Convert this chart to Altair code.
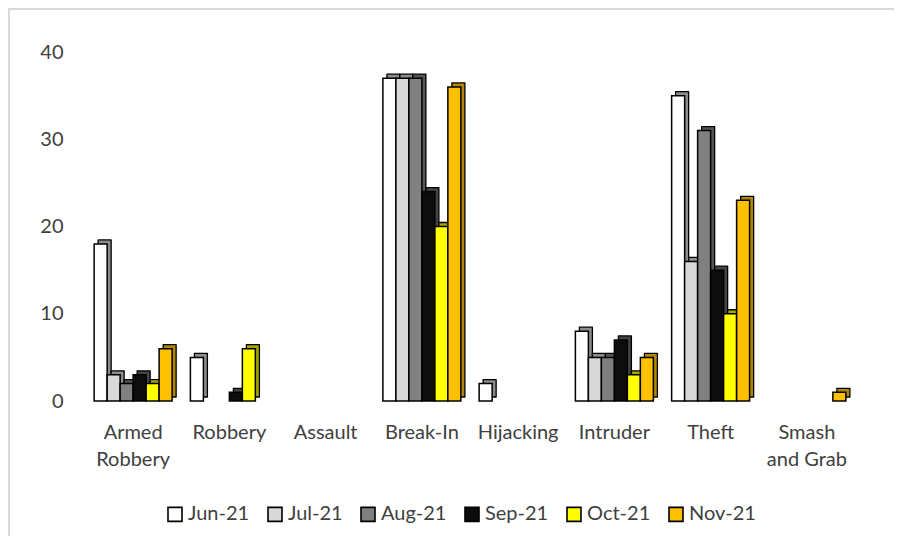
import altair as alt
import pandas as pd

categories = ["Armed Robbery", "Robbery", "Assault", "Break-In", "Hijacking", "Intruder", "Theft", "Smash and Grab"]
series = ["Jun-21", "Jul-21", "Aug-21", "Sep-21", "Oct-21", "Nov-21"]
jun = [18, 5, 0, 37, 2, 8, 35, 0]
jul = [3, 0, 0, 37, 0, 5, 16, 0]
aug = [2, 0, 0, 37, 0, 5, 31, 0]
sep = [3, 1, 0, 24, 0, 7, 15, 0]
oct_ = [2, 6, 0, 20, 0, 3, 10, 0]
nov = [6, 0, 0, 36, 0, 5, 23, 1]
face_colors = ["#ffffff", "#d9d9d9", "#808080", "#0d0d0d", "#ffff00", "#ffc000"]
side_colors = ["#8c8c8c", "#8c8c8c", "#555555", "#444444", "#a6a600", "#b38600"]

rows = []
for s, vals in zip(series, [jun, jul, aug, sep, oct_, nov]):
    for c, v in zip(categories, vals):
        rows.append({"category": c, "month": s, "value": v})
df = pd.DataFrame(rows)

FONT = "Lato"
TXT = "#404040"
x_enc = alt.X("category:N", sort=categories,
              scale=alt.Scale(domain=categories, paddingInner=0.19, paddingOuter=0.095),
              axis=alt.Axis(title=None, labelAngle=0, ticks=False, domain=False,
                            labelFontSize=20, labelColor=TXT, labelFont=FONT,
                            labelPadding=21, labelLineHeight=27, labelBaseline="top",
                            labelExpr="datum.label == 'Armed Robbery' ? ['Armed','Robbery'] : datum.label == 'Smash and Grab' ? ['Smash','and Grab'] : datum.label"))
y_enc = alt.Y("value:Q", scale=alt.Scale(domain=[0, 40]),
              axis=alt.Axis(title=None, values=[0, 10, 20, 30, 40], grid=False, ticks=False, domain=False,
                            labelFontSize=20, labelColor=TXT, labelFont=FONT, labelPadding=22))

base = alt.Chart(df).transform_filter("datum.value > 0")

shadow = base.mark_bar(yOffset=-4, stroke="#000000", strokeWidth=1.3, strokeJoin="round").encode(
    x=x_enc, y=y_enc,
    xOffset=alt.XOffset("month:N", sort=series,
                        scale=alt.Scale(domain=series, range=[4, 82], paddingInner=0, paddingOuter=0)),
    color=alt.Color("month:N", sort=series, scale=alt.Scale(domain=series, range=side_colors), legend=None),
)
front = base.mark_bar(stroke="#000000", strokeWidth=1.5).encode(
    x=x_enc, y=y_enc,
    xOffset=alt.XOffset("month:N", sort=series,
                        scale=alt.Scale(domain=series, paddingInner=0, paddingOuter=0)),
    fill=alt.Fill("month:N", sort=series, scale=alt.Scale(domain=series, range=face_colors),
                  legend=alt.Legend(title=None, orient="none", direction="horizontal",
                                    legendX=80, legendY=452, symbolType="square", symbolSize=196,
                                    symbolStrokeColor="#000000", symbolStrokeWidth=1.6,
                                    labelFontSize=20, labelFont=FONT, labelColor=TXT,
                                    labelOffset=3, columnPadding=14, symbolOffset=0)),
)
border = alt.Chart(pd.DataFrame({"a": [0]})).mark_rect(fill=None, stroke="#d9d9d9", strokeWidth=2).encode(
    x=alt.value(-76), x2=alt.value(860), y=alt.value(-43), y2=alt.value(490)
)

chart = alt.layer(border, shadow, front).resolve_scale(color="independent", xOffset="independent").properties(
    width=770, height=349,
    background="#ffffff",
    autosize=alt.AutoSizeParams(type="none"),
    padding={"left": 77, "top": 44, "right": 39, "bottom": 135},
).configure_view(strokeWidth=0)

chart.save("out.html", embed_options={"renderer": "svg", "actions": False})
